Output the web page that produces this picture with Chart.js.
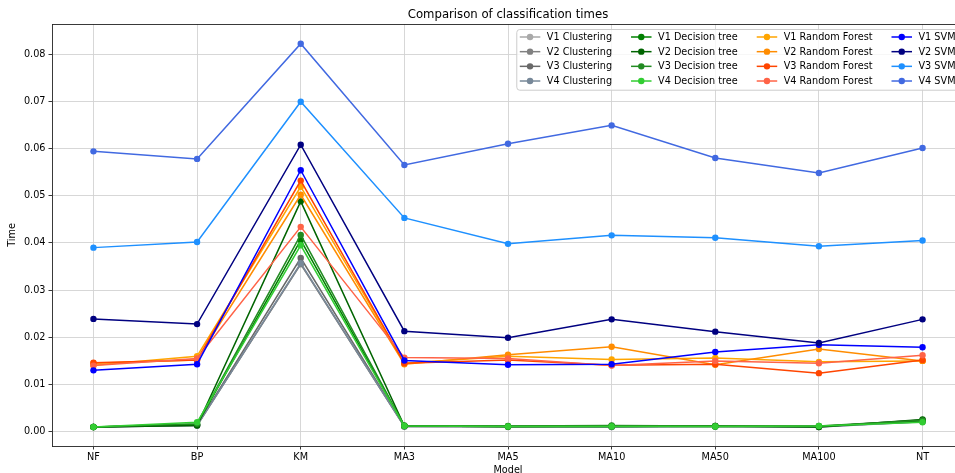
<!DOCTYPE html>
<html lang="en">
<head>
  <meta charset="UTF-8">
  <title>Comparison of classification times</title>
  <style>
    html, body {
      margin: 0;
      padding: 0;
      overflow: hidden;
      background: #fff;
    }
    #wrap {
      width: 968px;
      height: 480px;
    }
  </style>
</head>
<body>
  <div id="wrap"><canvas id="chart" width="968" height="480"></canvas></div>

  <script src="https://cdn.jsdelivr.net/npm/chart.js@4.4.1/dist/chart.umd.min.js"></script>
  <script>
    const models = ['NF', 'BP', 'KM', 'MA3', 'MA5', 'MA10', 'MA50', 'MA100', 'NT'];
    const yTicks = [0.00, 0.01, 0.02, 0.03, 0.04, 0.05, 0.06, 0.07, 0.08];

    const v1Clustering = [0.0010, 0.0014, 0.0355, 0.0011, 0.0011, 0.0011, 0.0011, 0.0011, 0.0021];
    const v2Clustering = [0.0010, 0.0013, 0.0355, 0.0011, 0.0010, 0.0010, 0.0011, 0.0010, 0.0022];
    const v3Clustering = [0.0010, 0.0014, 0.0368, 0.0012, 0.0011, 0.0011, 0.0012, 0.0011, 0.0025];
    const v4Clustering = [0.0010, 0.0013, 0.0357, 0.0011, 0.0011, 0.0010, 0.0011, 0.0010, 0.0021];

    const v1DecisionTree = [0.0010, 0.0015, 0.0406, 0.0012, 0.0011, 0.0012, 0.0011, 0.0011, 0.0023];
    const v2DecisionTree = [0.0010, 0.0013, 0.0488, 0.0012, 0.0011, 0.0011, 0.0012, 0.0010, 0.0026];
    const v3DecisionTree = [0.0010, 0.0017, 0.0417, 0.0013, 0.0012, 0.0013, 0.0012, 0.0012, 0.0024];
    const v4DecisionTree = [0.0010, 0.0020, 0.0395, 0.0012, 0.0011, 0.0011, 0.0011, 0.0012, 0.0020];

    const v1RandomForest = [0.0141, 0.0160, 0.0519, 0.0145, 0.0160, 0.0153, 0.0156, 0.0148, 0.0150];
    const v2RandomForest = [0.0145, 0.0152, 0.0502, 0.0143, 0.0163, 0.0180, 0.0142, 0.0175, 0.0150];
    const v3RandomForest = [0.0146, 0.0152, 0.0532, 0.0145, 0.0152, 0.0141, 0.0143, 0.0124, 0.0152];
    const v4RandomForest = [0.0140, 0.0155, 0.0434, 0.0157, 0.0155, 0.0140, 0.0150, 0.0145, 0.0162];

    const v1Svm = [0.0130, 0.0143, 0.0554, 0.0151, 0.0142, 0.0143, 0.0169, 0.0184, 0.0179];
    const v2Svm = [0.0239, 0.0228, 0.0608, 0.0213, 0.0199, 0.0238, 0.0212, 0.0188, 0.0238];
    const v3Svm = [0.0390, 0.0402, 0.0699, 0.0453, 0.0398, 0.0416, 0.0411, 0.0393, 0.0405];
    const v4Svm = [0.0594, 0.0578, 0.0822, 0.0565, 0.0610, 0.0649, 0.0580, 0.0548, 0.0601];

    // plotted in this order, later ones on top (matplotlib style)
    const series = [
      {label: 'V1 Clustering', data: v1Clustering, color: '#a9a9a9'},
      {label: 'V2 Clustering', data: v2Clustering, color: '#808080'},
      {label: 'V3 Clustering', data: v3Clustering, color: '#696969'},
      {label: 'V4 Clustering', data: v4Clustering, color: '#778899'},
      {label: 'V1 Decision tree', data: v1DecisionTree, color: '#008000'},
      {label: 'V2 Decision tree', data: v2DecisionTree, color: '#006400'},
      {label: 'V3 Decision tree', data: v3DecisionTree, color: '#228b22'},
      {label: 'V4 Decision tree', data: v4DecisionTree, color: '#32cd32'},
      {label: 'V1 Random Forest', data: v1RandomForest, color: '#ffa500'},
      {label: 'V2 Random Forest', data: v2RandomForest, color: '#ff8c00'},
      {label: 'V3 Random Forest', data: v3RandomForest, color: '#ff4500'},
      {label: 'V4 Random Forest', data: v4RandomForest, color: '#ff6347'},
      {label: 'V1 SVM', data: v1Svm, color: '#0000ff'},
      {label: 'V2 SVM', data: v2Svm, color: '#000080'},
      {label: 'V3 SVM', data: v3Svm, color: '#1e90ff'},
      {label: 'V4 SVM', data: v4Svm, color: '#4169e1'}
    ];

    const FONT = "'DejaVu Sans', sans-serif";
    const FS = 9.7;

    // title, top/right spines and the 4-column legend drawn by hand
    const extras = {
      id: 'extras',
      afterDraw(chart) {
        const ctx = chart.ctx;
        const area = chart.chartArea;
        ctx.save();

        ctx.strokeStyle = '#222';
        ctx.lineWidth = 0.9;
        ctx.beginPath();
        ctx.moveTo(area.left, area.top + 0.5);
        ctx.lineTo(area.right, area.top + 0.5);
        ctx.lineTo(area.right, area.bottom);
        ctx.stroke();

        ctx.fillStyle = '#000';
        ctx.font = `11.7px ${FONT}`;
        ctx.textAlign = 'center';
        ctx.textBaseline = 'middle';
        ctx.fillText('Comparison of classification times', (area.left + area.right) / 2, 14.5);

        // legend, column-major like matplotlib ncol=4
        ctx.font = `${FS}px ${FONT}`;
        const nrows = 4, ncols = 4;
        const handle = 20.5, textPad = 6.5, colSpace = 19, border = 3.5;
        const colW = [];
        for (let c = 0; c < ncols; c++) {
          let w = 0;
          for (let r = 0; r < nrows; r++) {
            w = Math.max(w, ctx.measureText(series[c * nrows + r].label).width);
          }
          colW.push(w);
        }
        const total = border * 2 + ncols * (handle + textPad) + colW.reduce((a, b) => a + b, 0) + (ncols - 1) * colSpace;
        const left = area.right - 5 - total;
        const top = area.top + 5;
        const rowH = 14.67;
        const height = 8 + (nrows - 1) * rowH + 8.7;

        ctx.fillStyle = 'rgba(255,255,255,0.8)';
        ctx.strokeStyle = '#cccccc';
        ctx.lineWidth = 1;
        ctx.beginPath();
        ctx.roundRect(left + 0.5, top + 0.5, total, height, 3);
        ctx.fill();
        ctx.stroke();

        ctx.textAlign = 'left';
        let x = left + border;
        for (let c = 0; c < ncols; c++) {
          for (let r = 0; r < nrows; r++) {
            const s = series[c * nrows + r];
            const y = top + 8 + r * rowH;
            ctx.strokeStyle = s.color;
            ctx.lineWidth = 1.5;
            ctx.beginPath();
            ctx.moveTo(x, y);
            ctx.lineTo(x + handle, y);
            ctx.stroke();
            ctx.fillStyle = s.color;
            ctx.beginPath();
            ctx.arc(x + handle / 2, y, 3.2, 0, Math.PI * 2);
            ctx.fill();
            ctx.fillStyle = '#000';
            ctx.fillText(s.label, x + handle + textPad, y + 0.5);
          }
          x += handle + textPad + colW[c] + colSpace;
        }
        ctx.restore();
      }
    };

    new Chart(document.getElementById('chart'), {
      type: 'line',
      data: {
        datasets: series.map((s, i) => ({
          label: s.label,
          data: s.data.map((v, j) => ({x: j, y: v})),
          borderColor: s.color,
          backgroundColor: s.color,
          pointBackgroundColor: s.color,
          pointBorderWidth: 0,
          pointRadius: 3.2,
          borderWidth: 1.5,
          tension: 0,
          fill: false,
          order: series.length - i
        }))
      },
      options: {
        responsive: false,
        animation: false,
        devicePixelRatio: 1,
        layout: {padding: {top: 24, left: 0, right: 0, bottom: 0}},
        plugins: {
          legend: {display: false},
          title: {display: false},
          tooltip: {enabled: false}
        },
        scales: {
          x: {
            type: 'linear',
            min: -0.4,
            max: 8.4,
            afterBuildTicks: scale => {
              scale.ticks = models.map((m, i) => ({value: i}));
            },
            afterFit: scale => { scale.height = 34; },
            ticks: {
              callback: v => models[v],
              color: '#000',
              font: {family: FONT, size: FS},
              padding: 2.5,
              maxRotation: 0,
              autoSkip: false
            },
            grid: {color: '#d2d2d2', lineWidth: 0.9, tickColor: '#222', tickLength: 3.5, tickWidth: 0.9},
            border: {color: '#222', width: 0.9},
            title: {display: true, text: 'Model', color: '#000', font: {family: FONT, size: FS}, padding: {top: 0, bottom: 4}}
          },
          y: {
            min: -0.00303,
            max: 0.08638,
            afterBuildTicks: scale => {
              scale.ticks = yTicks.map(v => ({value: v}));
            },
            afterFit: scale => { scale.width = 52; },
            ticks: {
              callback: v => v.toFixed(2),
              color: '#000',
              font: {family: FONT, size: FS},
              padding: 3
            },
            grid: {color: '#d2d2d2', lineWidth: 0.9, tickColor: '#222', tickLength: 3.5, tickWidth: 0.9},
            border: {color: '#222', width: 0.9},
            title: {display: true, text: 'Time', color: '#000', font: {family: FONT, size: FS}, padding: {top: 7, bottom: 0}}
          }
        }
      },
      plugins: [extras]
    });
  </script>
</body>
</html>
